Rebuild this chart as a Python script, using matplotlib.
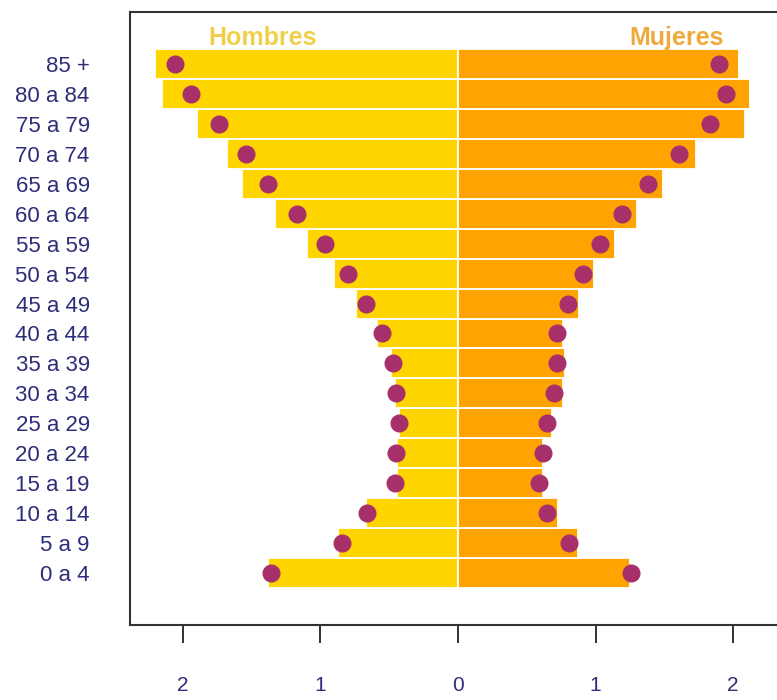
import matplotlib
matplotlib.use("Agg")
import matplotlib.pyplot as plt
import numpy as np

plt.rcParams['font.family'] = ['Liberation Sans', 'DejaVu Sans']

categories = ['0 a 4', '5 a 9', '10 a 14', '15 a 19', '20 a 24', '25 a 29',
              '30 a 34', '35 a 39', '40 a 44', '45 a 49', '50 a 54', '55 a 59',
              '60 a 64', '65 a 69', '70 a 74', '75 a 79', '80 a 84', '85 +']
men_bar = [1.38, 0.87, 0.67, 0.44, 0.44, 0.43, 0.46, 0.49, 0.59, 0.74,
           0.90, 1.10, 1.33, 1.57, 1.68, 1.90, 2.15, 2.20]
men_dot = [1.36, 0.84, 0.66, 0.46, 0.45, 0.43, 0.45, 0.47, 0.55, 0.67,
           0.80, 0.97, 1.17, 1.38, 1.54, 1.74, 1.94, 2.06]
women_bar = [1.25, 0.87, 0.73, 0.62, 0.62, 0.68, 0.76, 0.78, 0.76, 0.88,
             0.99, 1.14, 1.30, 1.49, 1.73, 2.09, 2.12, 2.04]
women_dot = [1.26, 0.81, 0.65, 0.59, 0.62, 0.65, 0.70, 0.72, 0.72, 0.80,
             0.91, 1.03, 1.19, 1.38, 1.61, 1.83, 1.95, 1.90]
xticks = [-2, -1, 0, 1, 2]
xtick_labels = ['2', '1', '0', '1', '2']

W, H = 777, 700
fig = plt.figure(figsize=(W / 100, H / 100), dpi=100)
ax = fig.add_axes([130 / W, (H - 625) / H, (786 - 130) / W, (625 - 12) / H])

y = np.arange(len(categories))
ax.barh(y, -np.array(men_bar), height=1.0, color='#FFD500', edgecolor='white', linewidth=1.3)
ax.barh(y, women_bar, height=1.0, color='#FFA300', edgecolor='white', linewidth=1.3)
ax.plot(-np.array(men_dot), y, 'o', color='#A8306A', markersize=12, linestyle='none')
ax.plot(women_dot, y, 'o', color='#A8306A', markersize=12, linestyle='none')

ax.set_xlim(-2.385, 2.385)
ax.set_ylim(-1.74, len(categories) - 1 + 1.74)

ax.text(-1.42, 17.87, 'Hombres', color='#F0D04A', fontsize=18, fontweight='bold',
        ha='center', va='center')
ax.text(1.59, 17.87, 'Mujeres', color='#EEAA3C', fontsize=18, fontweight='bold',
        ha='center', va='center')

label_color = '#2d2d78'
ax.set_yticks(y)
ax.set_yticklabels(categories, fontsize=16, color=label_color)
ax.tick_params(axis='y', length=0, pad=29)
ax.set_xticks(xticks)
ax.set_xticklabels(xtick_labels, fontsize=15, color=label_color)
ax.tick_params(axis='x', length=13, width=1.3, color='#222222', pad=24)

for s in ax.spines.values():
    s.set_color('#333333')
    s.set_linewidth(1.5)

fig.savefig('out.png', dpi=100)
